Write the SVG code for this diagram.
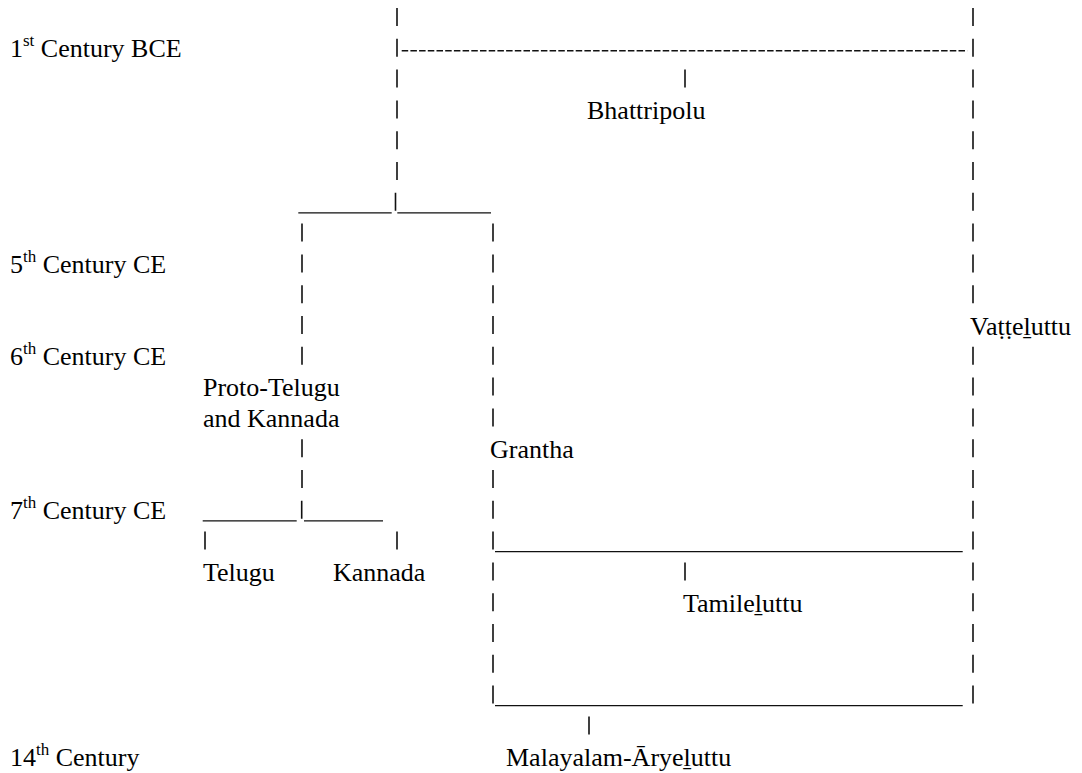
<svg xmlns="http://www.w3.org/2000/svg" width="1082" height="773" viewBox="0 0 1082 773">
<rect width="1082" height="773" fill="#fff"/>
<g id="connectors" fill="none" stroke="#111">
<path stroke-width="1.6" d="M397 8v18M397 38.8v18M397 69.6v18M397 100.4v18M397 131.2v18M397 162v18M395.5 192.8v18"/>
<path stroke-width="1.4" stroke-dasharray="6.5 2.2" d="M401.7 50.7H967.3"/>
<path stroke-width="1.3" d="M298.3 212.8H391.7M397.3 212.8H491"/>
<path stroke-width="1.6" d="M685 69.6v18"/>
<path stroke-width="1.6" d="M973 8v18M973 38.8v18M973 69.6v18M973 100.4v18M973 131.2v18M973 162v18M973 192.8v18M973 223.6v18M973 254.4v18M973 285.2v18M973 346.8v18M973 377.6v18M973 408.4v18M973 439.2v18M973 470v18M973 500.8v18M973 531.6v18M973 562.4v18M973 593.2v18M973 624v18M973 654.8v18M973 685.6v18"/>
<path stroke-width="1.6" d="M302 223.6v18M302 254.4v18M302 285.2v18M302 316v18M302 346.8v18M302 439.2v18M302 470v18M301.7 500.8v18"/>
<path stroke-width="1.3" d="M202.7 520.8H296.7M304 520.8H383"/>
<path stroke-width="1.6" d="M205 531.6v18M397 531.6v18"/>
<path stroke-width="1.6" d="M493 223.6v18M493 254.4v18M493 285.2v18M493 316v18M493 346.8v18M493 377.6v18M493 408.4v18M493 470v18M493 500.8v18M493 531.6v18M493 562.4v18M493 593.2v18M493 624v18M493 654.8v18M493 685.6v18"/>
<path stroke-width="1.3" d="M495 551.6H962.7M495 705.6H962.7"/>
<path stroke-width="1.6" d="M685 562.4v18M589 716.4v18"/>
</g>
<g font-family="Times New Roman, Liberation Serif, serif" font-size="26px" fill="#000">
<g id="periods">
<text x="10" y="57.3">1<tspan font-size="17px" dy="-11">st</tspan><tspan dy="11"> Century BCE</tspan></text>
<text x="10" y="272.9">5<tspan font-size="17px" dy="-11">th</tspan><tspan dy="11"> Century CE</tspan></text>
<text x="10" y="365.3">6<tspan font-size="17px" dy="-11">th</tspan><tspan dy="11"> Century CE</tspan></text>
<text x="10" y="519.3">7<tspan font-size="17px" dy="-11">th</tspan><tspan dy="11"> Century CE</tspan></text>
<text x="10" y="765.7">14<tspan font-size="17px" dy="-11">th</tspan><tspan dy="11"> Century</tspan></text>
</g>
<g id="bhattripolu"><text x="587" y="118.9">Bhattripolu</text></g>
<g id="vatteluttu"><text x="970" y="334.5">Vaṭṭeḻuttu</text></g>
<g id="proto-telugu-kannada"><text x="203" y="396.1">Proto-Telugu</text><text x="203" y="426.9">and Kannada</text></g>
<g id="grantha"><text x="490" y="457.7">Grantha</text></g>
<g id="telugu"><text x="203" y="580.9">Telugu</text></g>
<g id="kannada"><text x="333" y="580.9">Kannada</text></g>
<g id="tamileluttu"><text x="683" y="611.7">Tamileḻuttu</text></g>
<g id="malayalam-aryeluttu"><text x="506" y="765.7">Malayalam-Āryeḻuttu</text></g>
</g>
</svg>
